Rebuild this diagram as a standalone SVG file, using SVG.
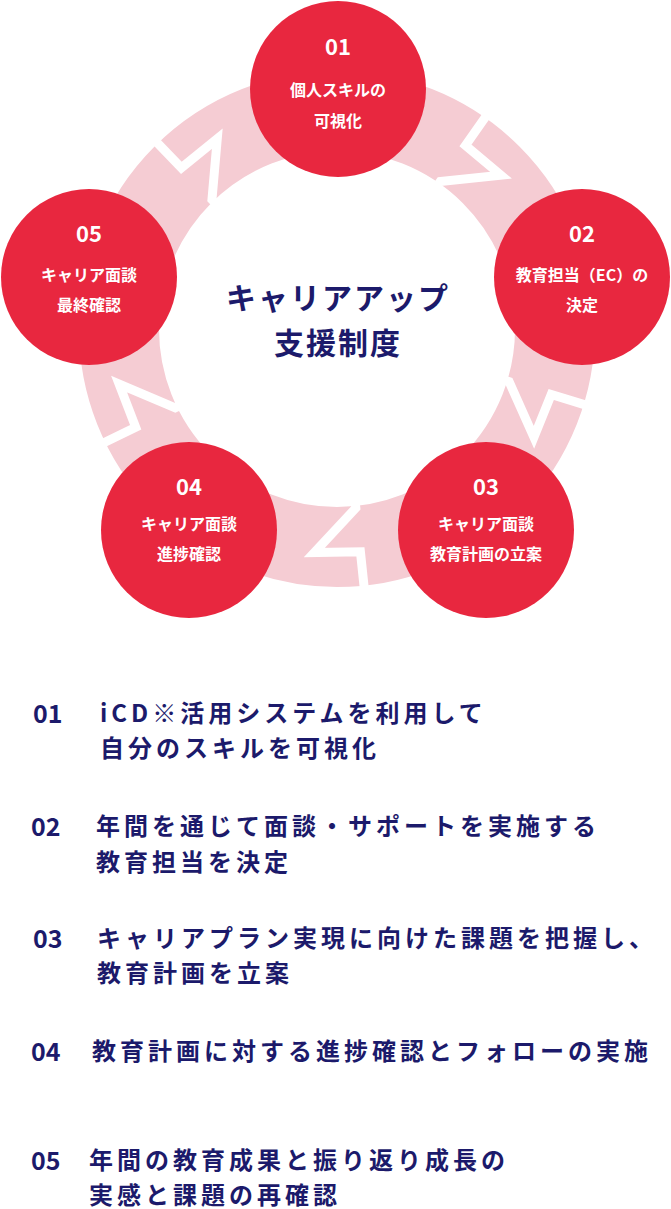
<svg xmlns="http://www.w3.org/2000/svg" width="671" height="1209" viewBox="0 0 671 1209">
<style>
.node{fill:#e8273f}
.num{font-family:"Noto Sans CJK JP","Noto Sans",sans-serif;font-weight:bold;fill:#fff;font-size:22px;text-anchor:middle}
.lab{font-family:"Noto Sans CJK JP",sans-serif;font-weight:bold;fill:#fff;font-size:16px;text-anchor:middle}
.gap{fill:none;stroke:#fff;stroke-width:9;stroke-linejoin:miter}
.title{font-family:"Noto Sans CJK JP",sans-serif;font-weight:bold;fill:#1c1a6b;font-size:30px;text-anchor:middle;letter-spacing:2px}
.lnum{font-family:"Noto Sans CJK JP","Noto Sans",sans-serif;font-weight:bold;fill:#1c1a6b;font-size:25px}
.ltx{font-family:"Noto Sans CJK JP",sans-serif;font-weight:bold;fill:#1c1a6b;font-size:24px;letter-spacing:4px}
</style>
<rect width="671" height="1209" fill="#fff"/>
<g id="ring">
<circle cx="337" cy="329" r="218" fill="none" stroke="#f5ccd3" stroke-width="80"/>
</g>
<g id="connectors">
<polyline class="gap" transform="rotate(35 337 329)" points="337,61 337,105 383,109 337,149 337,157"/>
</g>
<g id="connectors-rest">
<polyline class="gap" transform="rotate(107 337 329)" points="337,61 337,105 383,109 337,149 337,157"/>
<polyline class="gap" transform="rotate(174 337 329)" points="337,61 337,105 383,109 337,149 337,157"/>
<polyline class="gap" transform="rotate(244 337 329)" points="337,61 337,105 383,109 337,149 337,157"/>
<polyline class="gap" transform="rotate(316 337 329)" points="337,61 337,105 383,109 337,149 337,157"/>
</g>
<g id="n01"><circle class="node" cx="338" cy="89" r="88"/><text class="num" x="338" y="55">01</text><text class="lab" x="338" y="96">個人スキルの</text><text class="lab" x="338" y="127">可視化</text></g>
<g id="n02"><circle class="node" cx="582" cy="277" r="88"/><text class="num" x="582" y="242">02</text><text class="lab" x="582" y="281">教育担当（EC）の</text><text class="lab" x="582" y="311">決定</text></g>
<g id="n03"><circle class="node" cx="486" cy="530" r="88"/><text class="num" x="486" y="495">03</text><text class="lab" x="486" y="530">キャリア面談</text><text class="lab" x="486" y="560">教育計画の立案</text></g>
<g id="n04"><circle class="node" cx="189" cy="530" r="88"/><text class="num" x="189" y="495">04</text><text class="lab" x="189" y="530">キャリア面談</text><text class="lab" x="189" y="560">進捗確認</text></g>
<g id="n05"><circle class="node" cx="89" cy="277" r="88"/><text class="num" x="89" y="242">05</text><text class="lab" x="89" y="281">キャリア面談</text><text class="lab" x="89" y="311">最終確認</text></g>
<g id="center"><text class="title" x="338" y="309">キャリアアップ</text><text class="title" x="338" y="354">支援制度</text></g>
<g id="list">
<text class="lnum" x="33" y="723">01</text><text class="ltx" x="100" y="722">iCD※活用システムを利用して</text><text class="ltx" x="100" y="757">自分のスキルを可視化</text>
<text class="lnum" x="31" y="836">02</text><text class="ltx" x="96" y="835">年間を通じて面談・サポートを実施する</text><text class="ltx" x="96" y="871">教育担当を決定</text>
<text class="lnum" x="33" y="948">03</text><text class="ltx" x="97" y="947">キャリアプラン実現に向けた課題を把握し、</text><text class="ltx" x="97" y="982">教育計画を立案</text>
<text class="lnum" x="31" y="1061">04</text><text class="ltx" x="92" y="1060">教育計画に対する進捗確認とフォローの実施</text>
<text class="lnum" x="31" y="1170">05</text><text class="ltx" x="89" y="1169">年間の教育成果と振り返り成長の</text><text class="ltx" x="89" y="1204">実感と課題の再確認</text>
</g>
</svg>
